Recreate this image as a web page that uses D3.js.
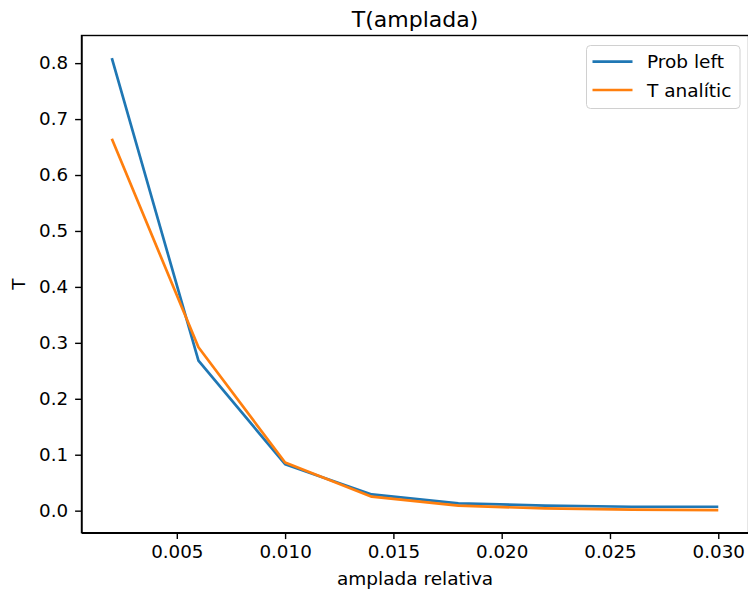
<!DOCTYPE html>
<html>
<head>
<meta charset="utf-8">
<script src="https://cdn.jsdelivr.net/npm/d3@7"></script>
<style>
    body { margin: 0; background: #fff; }
    svg { display: block; font-family: "DejaVu Sans", sans-serif; }
    .axis path, .axis line { stroke: #000; stroke-width: 1.4px; }
    .axis text { font-family: "DejaVu Sans", sans-serif; font-size: 18.3px; fill: #000; }
</style>
</head>
<body>
<script>
//chart data
var amplada = [0.002, 0.006, 0.010, 0.014, 0.018, 0.022, 0.026, 0.030];
var probLeft = [0.809, 0.268, 0.083, 0.029, 0.013, 0.009, 0.007, 0.007];
var tAnalitic = [0.665, 0.292, 0.086, 0.025, 0.009, 0.004, 0.002, 0.001];
var xTicks = [0.005, 0.010, 0.015, 0.020, 0.025, 0.030];
var yTicks = [0.0, 0.1, 0.2, 0.3, 0.4, 0.5, 0.6, 0.7, 0.8];
var seriesNames = ["Prob left", "T analític"];
var seriesColors = ["#1f77b4", "#ff7f0e"];

(function(){

    var width = 748, height = 592;
    var left = 81.5, right = 748.6, top = 35.5, bottom = 532.7;

    var svg = d3.select("body").append("svg")
        .attr("width", width)
        .attr("height", height);

    //matplotlib style 5% margins around the data
    function padded(vals){
        var ext = d3.extent(vals), pad = (ext[1] - ext[0]) * 0.05;
        return [ext[0] - pad, ext[1] + pad];
    }

    var x = d3.scaleLinear()
        .domain(padded(amplada))
        .range([left, right]);

    var y = d3.scaleLinear()
        .domain(padded(probLeft.concat(tAnalitic)))
        .range([bottom, top]);

    //series lines
    var series = [probLeft, tAnalitic];
    var line = d3.line()
        .x(function(d, i){ return x(amplada[i]); })
        .y(function(d){ return y(d); });

    series.forEach(function(s, k){
        svg.append("path")
            .datum(s)
            .attr("fill", "none")
            .attr("stroke", seriesColors[k])
            .attr("stroke-width", 2.7)
            .attr("stroke-linejoin", "round")
            .attr("d", line);
    });

    //axes
    var xAxis = d3.axisBottom(x)
        .tickValues(xTicks)
        .tickFormat(d3.format(".3f"))
        .tickSizeInner(6.4)
        .tickSizeOuter(0)
        .tickPadding(6);

    var yAxis = d3.axisLeft(y)
        .tickValues(yTicks)
        .tickFormat(d3.format(".1f"))
        .tickSizeInner(6.4)
        .tickSizeOuter(0)
        .tickPadding(7);

    svg.append("g")
        .attr("class", "axis")
        .attr("transform", "translate(0," + bottom + ")")
        .call(xAxis);

    svg.append("g")
        .attr("class", "axis")
        .attr("transform", "translate(" + left + ",0)")
        .call(yAxis);

    //frame
    svg.append("rect")
        .attr("x", left)
        .attr("y", top)
        .attr("width", right - left)
        .attr("height", bottom - top)
        .attr("fill", "none")
        .attr("stroke", "#000")
        .attr("stroke-width", 1.4);

    //title and labels
    svg.append("text")
        .attr("x", (left + right) / 2)
        .attr("y", 27)
        .attr("text-anchor", "middle")
        .style("font-size", "22px")
        .text("T(amplada)");

    svg.append("text")
        .attr("x", (left + right) / 2)
        .attr("y", 585)
        .attr("text-anchor", "middle")
        .style("font-size", "18.5px")
        .text("amplada relativa");

    svg.append("text")
        .attr("transform", "translate(25," + (top + bottom) / 2 + ") rotate(-90)")
        .attr("text-anchor", "middle")
        .style("font-size", "18.5px")
        .text("T");

    //legend
    var legend = svg.append("g");
    legend.append("rect")
        .attr("x", 586.5)
        .attr("y", 45.5)
        .attr("width", 153.5)
        .attr("height", 63)
        .attr("rx", 4)
        .attr("fill", "#fff")
        .attr("fill-opacity", 0.8)
        .attr("stroke", "#d0d0d0")
        .attr("stroke-width", 1);

    seriesNames.forEach(function(name, k){
        var ly = 61.7 + k * 28.3;
        legend.append("line")
            .attr("x1", 592.5)
            .attr("x2", 632.5)
            .attr("y1", ly)
            .attr("y2", ly)
            .attr("stroke", seriesColors[k])
            .attr("stroke-width", 2.7);
        legend.append("text")
            .attr("x", 647)
            .attr("y", ly + 6.5)
            .style("font-size", "18.5px")
            .text(name);
    });

})();
</script>
</body>
</html>
